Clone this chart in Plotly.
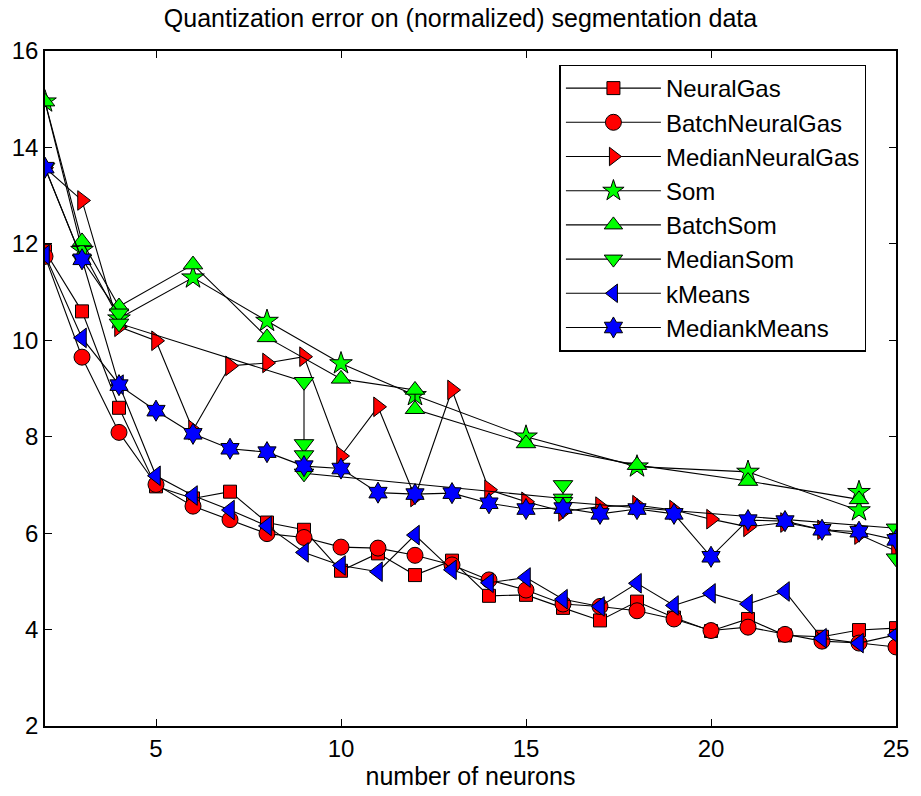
import plotly.graph_objects as go

# ---- data ----
x_full = list(range(2, 26))

neuralgas_y = [11.85, 10.6, 8.6, 6.97, 6.72, 6.86, 6.22, 6.07, 5.22, 5.58, 5.13, 5.43,
               4.7, 4.72, 4.45, 4.19, 4.58, 4.25, 3.97, 4.22, 3.88, 3.85, 3.99, 4.03]
batchneuralgas_y = [11.74, 9.65, 8.09, 7.01, 6.56, 6.28, 5.99, 5.91, 5.71, 5.69, 5.54, 5.34,
                    5.03, 4.82, 4.53, 4.48, 4.39, 4.22, 3.98, 4.05, 3.9, 3.76, 3.72, 3.64]
medianneuralgas_y = [13.58, 12.9, 10.28, 9.99, 8.14, 9.47, 9.53, 9.66, 7.6, 8.62, 6.75, 8.97,
                     6.9, 6.65, 6.45, 6.55, 6.58, 6.48, 6.29, 6.13, 6.22, 6.07, 5.97, 5.63]

som_x = [2, 3, 4, 6, 8, 10, 12, 15, 18, 21, 24, 24]
som_y = [14.95, 11.87, 10.45, 11.3, 10.4, 9.52, 8.86, 8.0, 7.38, 7.27, 6.47, 6.85]

batchsom_x = [2, 3, 4, 6, 8, 10, 12, 12, 15, 18, 21, 24]
batchsom_y = [14.95, 12.05, 10.7, 11.57, 10.06, 9.2, 8.97, 8.57, 7.86, 7.41, 7.08, 6.7]

mediansom_x = [2, 3, 4, 4, 9, 9, 9, 9, 16, 16, 16, 25, 25]
mediansom_y = [13.58, 11.68, 10.56, 10.35, 9.14, 7.85, 7.62, 7.24, 6.72, 7.0, 6.65, 6.1, 5.48]

kmeans_y = [11.77, 10.05, 9.08, 7.19, 6.78, 6.48, 6.15, 5.6, 5.33, 5.2, 5.96, 5.24,
            4.97, 5.08, 4.63, 4.48, 4.96, 4.5, 4.75, 4.53, 4.79, 3.82, 3.72, 3.89]
mediankmeans_y = [13.58, 11.68, 9.07, 8.54, 8.06, 7.75, 7.68, 7.39, 7.34, 6.84, 6.81, 6.83,
                  6.62, 6.5, 6.52, 6.4, 6.5, 6.4, 5.51, 6.27, 6.25, 6.07, 6.03, 5.86]

series = [
    ("NeuralGas", x_full, neuralgas_y, "square", "#FF0000", 13),
    ("BatchNeuralGas", x_full, batchneuralgas_y, "circle", "#FF0000", 16),
    ("MedianNeuralGas", x_full, medianneuralgas_y, "triangle-right", "#FF0000", 17),
    ("Som", som_x, som_y, "star", "#00FF00", 17),
    ("BatchSom", batchsom_x, batchsom_y, "triangle-up", "#00FF00", 17),
    ("MedianSom", mediansom_x, mediansom_y, "triangle-down", "#00FF00", 17),
    ("kMeans", x_full, kmeans_y, "triangle-left", "#0000FF", 17),
    ("MediankMeans", x_full, mediankmeans_y, "hexagram", "#0000FF", 16),
]

FONT = "Liberation Sans, Arial, sans-serif"

fig = go.Figure()
for name, xs, ys, sym, col, sz in series:
    fig.add_trace(go.Scatter(
        x=xs, y=ys, name=name, mode="lines+markers",
        line=dict(color="black", width=1.1),
        marker=dict(symbol=sym, size=sz, color=col, line=dict(color="black", width=1)),
    ))

axis_common = dict(
    showgrid=False, zeroline=False, showline=True, linecolor="black", linewidth=1.5,
    mirror="ticks", ticks="inside", ticklen=7, tickwidth=1, tickcolor="black",
    tickfont=dict(family=FONT, size=24, color="black"),
)

fig.update_layout(
    width=921, height=796,
    margin=dict(l=45, r=19, t=51, b=70),
    paper_bgcolor="white", plot_bgcolor="white",
    font=dict(family=FONT, color="black"),
    title=dict(text="Quantization error on (normalized) segmentation data",
               x=0.5, xanchor="center", y=0.977, yanchor="middle", yref="container",
               font=dict(family=FONT, size=25, color="black")),
    xaxis=dict(range=[2, 25], tickvals=[5, 10, 15, 20, 25],
               title=dict(text="number of neurons", font=dict(family=FONT, size=25), standoff=0),
               **axis_common),
    yaxis=dict(range=[2, 16], tickvals=[2, 4, 6, 8, 10, 12, 14, 16], **axis_common),
    legend=dict(x=0.6045, y=0.98, xanchor="left", yanchor="top",
                bordercolor="black", borderwidth=1.5, bgcolor="white",
                font=dict(family=FONT, size=24, color="black"),
                itemwidth=95, tracegroupgap=0),
    showlegend=True,
)

fig.write_html("out.html")
